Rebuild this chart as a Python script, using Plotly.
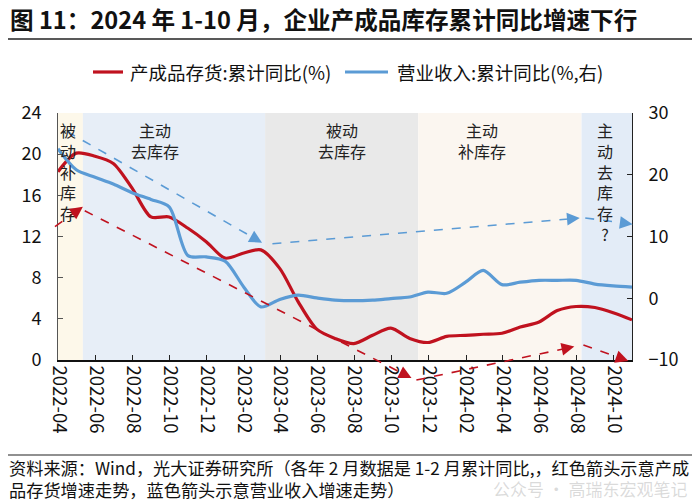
import pandas as pd
import plotly.graph_objects as go

# ---------------- data ----------------
months = pd.date_range("2022-03-31", "2024-10-31", freq="ME")  # month-end dates (2022-03 .. 2024-10)

inventory_yoy = [18.3, 20.1, 19.8, 19.1, 16.7, 13.9, 13.9, 12.8, 11.5, 9.9, 10.4, 10.7,
                 8.9, 5.7, 3.0, 2.1, 1.6, 2.4, 3.1, 2.1, 1.7, 2.3, 2.4, 2.5,
                 2.6, 3.2, 3.7, 4.8, 5.2, 5.1, 4.6, 3.9]
revenue_yoy = [24.2, 20.8, 19.6, 18.5, 17.1, 16.0, 14.8, 6.9, 6.7, 6.0, 1.8, -1.4,
               -0.2, 0.5, 0.05, -0.3, -0.4, -0.3, -0.05, 0.2, 1.0, 0.8, 2.6, 4.5,
               2.2, 2.6, 2.9, 2.9, 2.9, 2.3, 2.0, 1.8]

series_names = ["产成品存货:累计同比(%)", "营业收入:累计同比(%,右)"]

left_ticks = [0, 4, 8, 12, 16, 20, 24]
right_ticks = [-10, 0, 10, 20, 30]

# phase shading: boundaries and labels
phase_bounds = ["2022-03-31", "2022-05-11", "2023-03-07", "2023-11-14", "2024-08-09", "2024-10-31"]
phase_colors = ["#FDF8EA", "#E7EEF7", "#E9E9E9", "#FBF6F0", "#E3ECF7"]
phase_labels = ["被<br>动<br>补<br>库<br>存", "主动<br>去库存", "被动<br>去库存", "主动<br>补库存",
                "主<br>动<br>去<br>库<br>存<br>?"]
phase_label_x = ["2022-04-16", "2022-09-06", "2023-07-12", "2024-02-27", "2024-09-17"]

# trend arrows (tail date, tail value, head date, head value) in left-axis units
red_arrows = [("2022-03-26", 12.95, "2022-05-11", 14.9),
              ("2022-05-14", 14.5, "2023-11-03", -1.75),
              ("2023-11-11", -1.95, "2024-07-28", 1.3),
              ("2024-08-12", 1.45, "2024-10-25", -0.1)]
blue_arrows = [("2022-04-15", 22.2, "2023-03-02", 11.4),
               ("2023-03-19", 11.3, "2024-08-06", 13.8),
               ("2024-08-15", 13.8, "2024-11-01", 13.2)]

title_text = "图 11：2024 年 1-10 月，企业产成品库存累计同比增速下行"
source_line1 = "资料来源：Wind，光大证券研究所（各年 2 月数据是 1-2 月累计同比,，红色箭头示意产成"
source_line2 = "品存货增速走势，蓝色箭头示意营业收入增速走势）"
watermark = "公众号 · 高瑞东宏观笔记"

# ---------------- layout constants ----------------
# page has an 8px body margin; figure is sized so the plot lands where the reference has it
W, H = 692, 493
ML, MR, MT, MB = 50, 68, 105, 141
PW, PH = W - ML - MR, H - MT - MB
RED = "#C0121F"
BLUE = "#5B9BD5"
FONT = "Noto Sans CJK SC"

x0 = pd.Timestamp("2022-03-31")
x1 = pd.Timestamp("2024-10-31")
YMAX = 24.0


def to_paper(d, v):
    return (pd.Timestamp(d) - x0) / (x1 - x0), v / YMAX


def px_x(x):  # reference page pixel -> paper x
    return (x - 58) / PW


def px_y(y):  # reference page pixel -> paper y
    return (360 - y) / PH


fig = go.Figure()

fig.add_trace(go.Scatter(x=months, y=inventory_yoy, name=series_names[0], mode="lines",
                         line=dict(color=RED, width=3.2, shape="spline", smoothing=0.8),
                         yaxis="y", showlegend=False))
fig.add_trace(go.Scatter(x=months, y=revenue_yoy, name=series_names[1], mode="lines",
                         line=dict(color=BLUE, width=3.2, shape="spline", smoothing=0.8),
                         yaxis="y2", showlegend=False))

shapes = []
for i in range(len(phase_colors)):
    shapes.append(dict(type="rect", xref="x", yref="paper", x0=phase_bounds[i], x1=phase_bounds[i + 1],
                       y0=0, y1=1, fillcolor=phase_colors[i], line=dict(width=0), layer="below"))

annotations = []
for lab, xd in zip(phase_labels, phase_label_x):
    annotations.append(dict(x=xd, y=px_y(116), xref="x", yref="paper", text=lab,
                            showarrow=False, xanchor="center", yanchor="top", align="center",
                            font=dict(family=FONT, size=16, color="#222222")))


def add_arrow(a, color, dash):
    td, tv, hd, hv = a
    tx, ty = to_paper(td, tv)
    hx, hy = to_paper(hd, hv)
    dxp = (hx - tx) * PW
    dyp = (hy - ty) * PH
    L = (dxp ** 2 + dyp ** 2) ** 0.5
    ux, uy = dxp / L, dyp / L
    back = 9.0
    ex, ey = hx - ux * back / PW, hy - uy * back / PH
    shapes.append(dict(type="line", xref="paper", yref="paper", x0=tx, y0=ty, x1=ex, y1=ey,
                       line=dict(color=color, width=1.6, dash=dash), layer="above"))
    annotations.append(dict(x=hx, y=hy, xref="paper", yref="paper", text="", showarrow=True,
                            ax=-ux * 10, ay=uy * 10, axref="pixel", ayref="pixel",
                            arrowhead=2, arrowsize=1.6, arrowwidth=1.6, arrowcolor=color,
                            standoff=0, startstandoff=0))


for a in red_arrows:
    add_arrow(a, RED, "dash")
for a in blue_arrows:
    add_arrow(a, BLUE, "dash")

# title underline and footer rule
for yy, th in [(39, 1.6), (455, 1.2)]:
    shapes.append(dict(type="line", xref="paper", yref="paper", x0=px_x(8), x1=px_x(692),
                       y0=px_y(yy), y1=px_y(yy), line=dict(color="#222222", width=th)))

# custom legend
legend_items = [(series_names[0], RED, 93, 123, 128), (series_names[1], BLUE, 345, 388, 395)]
for name, col, lx0, lx1, tx in legend_items:
    shapes.append(dict(type="line", xref="paper", yref="paper", x0=px_x(lx0), x1=px_x(lx1),
                       y0=px_y(72), y1=px_y(72), line=dict(color=col, width=3.2)))
    annotations.append(dict(x=px_x(tx), y=px_y(72), xref="paper", yref="paper", text=name,
                            showarrow=False, xanchor="left", yanchor="middle",
                            font=dict(family=FONT, size=18.5, color="#111111")))

annotations.append(dict(x=px_x(8), y=px_y(19), xref="paper", yref="paper", text="<b>" + title_text + "</b>",
                        showarrow=False, xanchor="left", yanchor="middle",
                        font=dict(family=FONT, size=23.6, color="#111111")))
annotations.append(dict(x=px_x(7), y=px_y(467), xref="paper", yref="paper", text=source_line1,
                        showarrow=False, xanchor="left", yanchor="middle",
                        font=dict(family=FONT, size=17.2, color="#111111")))
annotations.append(dict(x=px_x(7), y=px_y(490), xref="paper", yref="paper", text=source_line2,
                        showarrow=False, xanchor="left", yanchor="middle",
                        font=dict(family=FONT, size=17.2, color="#111111")))
annotations.append(dict(x=px_x(690), y=px_y(488), xref="paper", yref="paper", text=watermark,
                        showarrow=False, xanchor="right", yanchor="middle",
                        font=dict(family=FONT, size=17, color="rgba(150,150,150,0.35)")))

fig.update_layout(
    width=W, height=H,
    margin=dict(l=ML, r=MR, t=MT, b=MB, autoexpand=False),
    paper_bgcolor="white", plot_bgcolor="white",
    font=dict(family=FONT, size=16, color="#111111"),
    showlegend=False,
    xaxis=dict(type="date", range=[x0, x1], tick0="2022-04-01", dtick="M2", tickformat="%Y-%m",
               tickangle=90, ticks="inside", ticklen=5, tickcolor="#222222",
               showline=True, linecolor="#111111", linewidth=1.5, showgrid=False, zeroline=False,
               tickfont=dict(family=FONT, size=18.5, color="#111111")),
    yaxis=dict(range=[0, 24], tickvals=left_ticks, ticks="inside", ticklen=5, tickcolor="#555555",
               showline=True, linecolor="#555555", linewidth=1, showgrid=False, zeroline=False,
               ticklabelstandoff=12, tickfont=dict(family=FONT, size=18, color="#111111")),
    yaxis2=dict(range=[-10, 30], tickvals=right_ticks, overlaying="y", side="right",
                ticks="inside", ticklen=5, tickcolor="#222222",
                showline=True, linecolor="#222222", linewidth=1, showgrid=False, zeroline=False,
                ticklabelstandoff=12, tickfont=dict(family=FONT, size=18, color="#111111")),
    shapes=shapes,
    annotations=annotations,
)

fig.write_html("out.html")
